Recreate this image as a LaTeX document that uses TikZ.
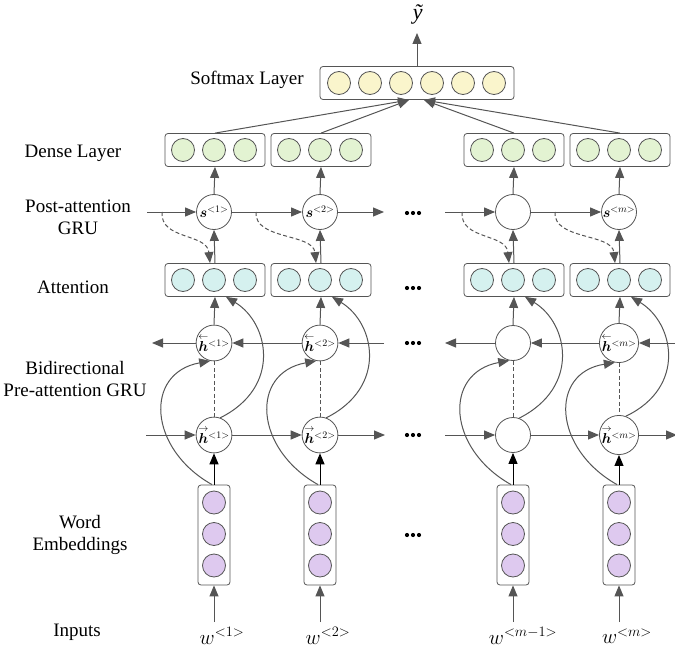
\documentclass[tikz,border=0pt]{standalone}
\usepackage{amsmath}
\usepackage{bm}
\usepackage{fontspec}
\setmainfont{Liberation Serif}
\usetikzlibrary{arrows.meta,calc}

\definecolor{lc}{HTML}{555555}
\definecolor{softfill}{HTML}{FAF5CC}
\definecolor{densefill}{HTML}{E3F3D2}
\definecolor{attfill}{HTML}{D5F1EF}
\definecolor{embfill}{HTML}{DEC9EF}

% state labels inside the GRU cells
\newcommand{\hleft}[1]{\overset{\leftarrow}{\bm{h}}\vphantom{h}^{<#1>}}
\newcommand{\hright}[1]{\overset{\rightarrow}{\bm{h}}\vphantom{h}^{<#1>}}

\begin{document}
\begin{tikzpicture}[x=1pt,y=-1pt,
  conn/.style={draw=lc, line width=1pt},
  arr/.style={conn, -{Triangle[length=11pt,width=9pt]}},
  darr/.style={arr, dashed, dash pattern=on 4pt off 2.5pt},
  karr/.style={draw=black, line width=1pt, -{Triangle[length=11pt,width=9pt]}},
  gru/.style={circle, draw=lc, fill=white, line width=0.8pt, minimum size=35pt, inner sep=0pt},
  unit/.style={circle, draw=lc, line width=0.8pt, minimum size=23pt, inner sep=0pt},
  layerbox/.style={draw=lc, line width=0.8pt, rounded corners=3pt, fill=white, minimum width=100pt, minimum height=33pt},
  embbox/.style={draw=lc, line width=0.8pt, rounded corners=3pt, fill=white, minimum width=32pt, minimum height=100pt},
  lbl/.style={font=\fontsize{19}{22}\selectfont, align=center},
  cell/.style={font=\fontsize{14}{14}\selectfont},
  wlbl/.style={font=\fontsize{22}{22}\selectfont}
]
\useasboundingbox (0,0) rectangle (675,650);

% ---- row labels ----
\node[lbl] (Lsoft) at (247,80) {Softmax Layer};
\node[lbl] (Ldense) at (73,153) {Dense Layer};
\node[lbl] (Lpost) at (78,217) {Post-attention\\GRU};
\node[lbl] (Latt) at (73,287) {Attention};
\node[lbl] (Lbi) at (75,379) {Bidirectional\\Pre-attention GRU};
\node[lbl] (Lemb) at (80,535) {Word\\Embeddings};
\node[lbl] (Lin) at (77,632) {Inputs};

% ---- softmax layer ----
\node[layerbox, minimum width=194pt] (sm) at (417,83) {};
\foreach \k in {0,...,5}
  \node[unit, fill=softfill] (smu\k) at (339+31*\k,83) {};
\coordinate (yt) at (417,33);
\draw[arr] (sm.north) -- (yt);
\node[wlbl] (ylbl) at (418,14) {\textit{ỹ}};

% ---- per-time-step columns ----
\foreach \i/\x/\dsx in {1/214/52, 2/320/64, 3/513/51, 4/619/64} {
  % dense layer
  \node[layerbox] (d\i) at (\x+1,150) {};
  % attention
  \node[layerbox] (a\i) at (\x+1,280) {};
  \foreach \k in {-1,0,1} {
    \node[unit, fill=densefill] at (\x+31*\k,150) {};
    \node[unit, fill=attfill] at (\x+31*\k,280) {};
  }
  % word embeddings
  \node[embbox] (e\i) at (\x,535) {};
  \foreach \k in {-1,0,1}
    \node[unit, fill=embfill] at (\x,534+31.5*\k) {};
  % input arrow
  \coordinate (in\i) at (\x,622);
  \draw[arr] (in\i) -- (e\i.south);
  % start of the dashed feedback on the post-attention line
  \coordinate (ds\i) at (\x-\dsx,212);
}

% GRU cells
\node[gru, cell] (s1) at (214,212) {$\bm{s}^{<1>}$};
\node[gru, cell] (s2) at (320,212) {$\bm{s}^{<2>}$};
\node[gru, cell] (s3) at (513,212) {};
\node[gru, cell] (s4) at (619,212) {$\bm{s}^{<m>}$};

\node[gru, cell] (hb1) at (214,343) {$\hleft{1}$};
\node[gru, cell] (hb2) at (320,343) {$\hleft{2}$};
\node[gru, cell] (hb3) at (513,343) {};
\node[gru, cell] (hb4) at (619,343) {$\hleft{m}$};

\node[gru, cell] (hf1) at (214,435) {$\hright{1}$};
\node[gru, cell] (hf2) at (320,435) {$\hright{2}$};
\node[gru, cell] (hf3) at (513,435) {};
\node[gru, cell] (hf4) at (619,435) {$\hright{m}$};

% input labels
\node[wlbl] (w1) at (222,636) {$w^{<1>}$};
\node[wlbl] (w2) at (328,636) {$w^{<2>}$};
\node[wlbl] (w3) at (523,636) {$w^{<m-1>}$};
\node[wlbl] (w4) at (627,636) {$w^{<m>}$};

% ---- dense -> softmax ----
\coordinate (smL) at (409,100);
\coordinate (smR) at (424,100);
\draw[arr] (d1.north) -- (smL);
\draw[arr] (d2.north) -- (smL);
\draw[arr] (d3.north) -- (smR);
\draw[arr] (d4.north) -- (smR);

% ---- post-attention GRU chain ----
\coordinate (pL) at (147,212);
\coordinate (pR2) at (384,212);
\coordinate (pL3) at (445,212);
\draw[arr] (pL) -- (s1.west);
\draw[arr] (s1.east) -- (s2.west);
\draw[arr] (s2.east) -- (pR2);
\draw[arr] (pL3) -- (s3.west);
\draw[arr] (s3.east) -- (s4.west);

% ---- backward GRU chain ----
\coordinate (bL) at (152,343);
\coordinate (bR2) at (384,343);
\coordinate (bL3) at (445,343);
\coordinate (bR4) at (676,343);
\draw[arr] (hb1.west) -- (bL);
\draw[arr] (hb2.west) -- (hb1.east);
\draw[arr] (bR2) -- (hb2.east);
\draw[arr] (hb3.west) -- (bL3);
\draw[arr] (hb4.west) -- (hb3.east);
\draw[arr] (bR4) -- (hb4.east);

% ---- forward GRU chain ----
\coordinate (fL) at (146,435);
\coordinate (fR2) at (385,435);
\coordinate (fL3) at (445,435);
\coordinate (fR4) at (677,435);
\draw[arr] (fL) -- (hf1.west);
\draw[arr] (hf1.east) -- (hf2.west);
\draw[arr] (hf2.east) -- (fR2);
\draw[arr] (fL3) -- (hf3.west);
\draw[arr] (hf3.east) -- (hf4.west);
\draw[arr] (hf4.east) -- (fR4);

% ---- vertical links in each column ----
\foreach \i in {1,2,3,4} {
  \draw[arr] (s\i.north) -- (d\i.south);
  \draw[arr] (a\i.north) -- (s\i.south);
  \draw[darr] (ds\i) .. controls ($(ds\i)+(-2,28)$) and ($(a\i.north)+(-8,-30)$) .. ($(a\i.north)+(-5,0)$);
  \draw[arr] (hb\i.north) -- (a\i.south);
  \draw[conn, dashed, dash pattern=on 4pt off 2.5pt] (hb\i.south) -- (hf\i.north);
  \draw[arr] (hf\i.70) .. controls ($(hf\i)+(68,-48)$) and ($(a\i.south)+(54,26)$) .. ($(a\i.south)+(11,0)$);
  \draw[arr] ($(e\i.north)+(-2,0)$) .. controls ($(e\i.north)+(-66,-36)$) and ($(hb\i)+(-70,30)$) .. (hb\i.-102);
  \draw[karr] (e\i.north) -- (hf\i.south);
}

% ---- ellipses between time steps ----
\foreach \y in {213,288,343,435,535}
  \foreach \dx in {-6,0,6}
    \fill (413+\dx,\y) circle (2.1pt);

\end{tikzpicture}
\end{document}
